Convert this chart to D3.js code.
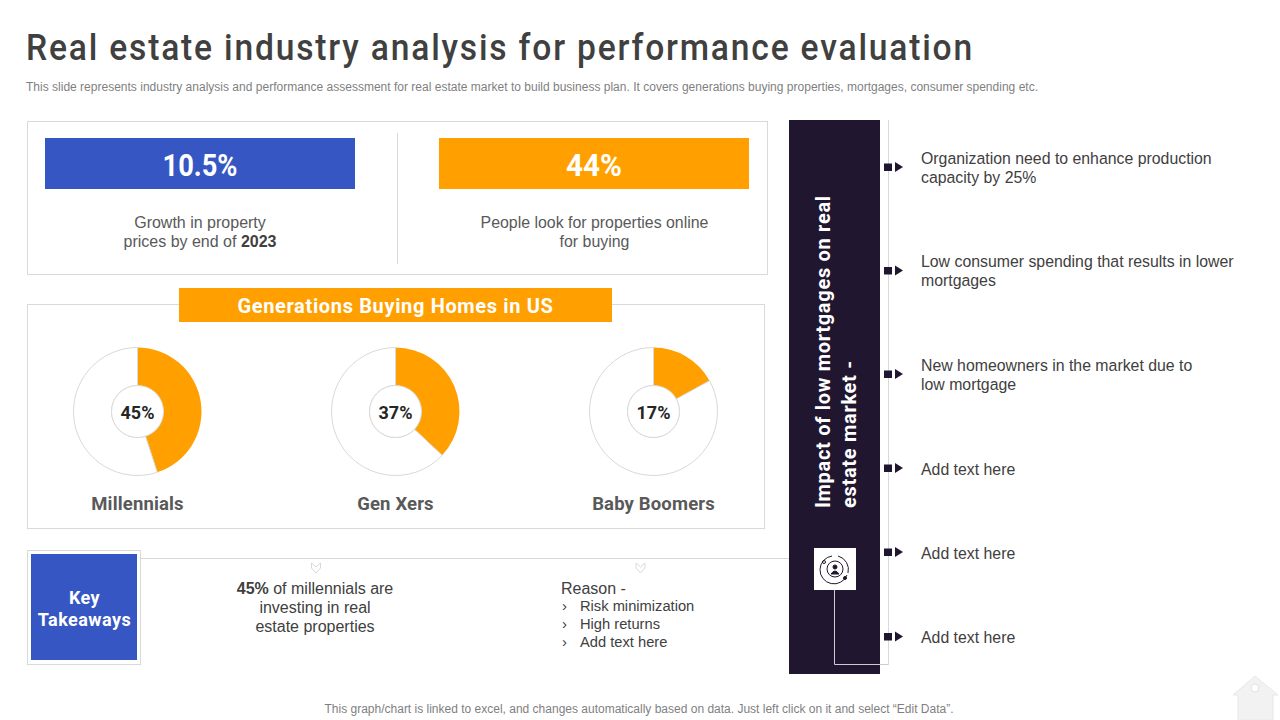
<!DOCTYPE html>
<html><head><meta charset="utf-8">
<script src="https://cdn.jsdelivr.net/npm/d3@7"></script>
<style>html,body{margin:0;padding:0;background:#fff;overflow:hidden}svg{display:block}
text{font-family:"Liberation Sans",Arial,sans-serif}
.din{font-family:"Roboto",sans-serif;font-weight:700}</style></head><body>
<svg id="c" width="1280" height="720"></svg>
<script>
const categories=["Millennials","Gen Xers","Baby Boomers"];
const shares=[45,37,17];
const bullets=[
 ["Organization need to enhance production","capacity by 25%"],
 ["Low consumer spending that results in lower","mortgages"],
 ["New homeowners in the market due to","low mortgage"],
 ["Add text here"],["Add text here"],["Add text here"]];
const bulletY=[167,270.5,374,468,552,636.5];
const reasons=["Risk minimization","High returns","Add text here"];
const ORANGE="#ffa000",BLUE="#3656c4",DARK="#21162f",LINE="#d9d9d9",TXT="#404040";
const svg=d3.select("#c");
function rect(x,y,w,h,f,s,sw){return svg.append("rect").attr("x",x).attr("y",y).attr("width",w).attr("height",h).attr("fill",f||"none").attr("stroke",s||"none").attr("stroke-width",sw||1);}
function line(x1,y1,x2,y2,s,sw){return svg.append("line").attr("x1",x1).attr("y1",y1).attr("x2",x2).attr("y2",y2).attr("stroke",s||LINE).attr("stroke-width",sw||1);}
function text(x,y,t,size,fill,anchor,cls,w){const e=svg.append("text").attr("x",x).attr("y",y).attr("font-size",size).attr("fill",fill||TXT).attr("text-anchor",anchor||"start").text(t);if(cls)e.attr("class",cls);if(w)e.attr("font-weight",w);return e;}
function fit(e,len){return e.attr("textLength",len).attr("lengthAdjust","spacingAndGlyphs");}

// header
fit(text(26,60,"Real estate industry analysis for performance evaluation",36,"#404040","start","din").style("font-weight",500).attr("letter-spacing",1.95),948);
text(26,91,"This slide represents industry analysis and performance assessment for real estate market to build business plan. It covers generations buying properties, mortgages, consumer spending etc.",12,"#7f7f7f").attr("textLength",1012).attr("lengthAdjust","spacing");

// KPI panel
rect(27.5,121.5,740,153,"#fff",LINE);
line(397.5,133,397.5,264);
rect(45,138,310,51,BLUE);
rect(439,138,310,51,ORANGE);
fit(text(200,176,"10.5%",31,"#fff","middle","din"),75);
fit(text(594,176,"44%",31,"#fff","middle","din"),56);
text(200,228,"Growth in property",16,"#595959","middle");
const g2=text(200,247,"prices by end of ",16,"#595959","middle");
g2.append("tspan").attr("font-weight",700).attr("fill","#404040").text("2023");
text(594.5,228,"People look for properties online",15.9,"#595959","middle");
text(594.5,247,"for buying",15.9,"#595959","middle");

// generations panel
rect(27.5,304.5,737,224,"#fff",LINE);
rect(179,288,433,34,ORANGE);
text(395.5,313,"Generations Buying Homes in US",20,"#fff","middle","din").attr("letter-spacing",0.65);

const cx=d3.scalePoint().domain(categories).range([137.5,653.5]);
const pie=d3.pie().sort(null).value(d=>d);
const arc=d3.arc().innerRadius(26).outerRadius(64);
categories.forEach((c,i)=>{
  const g=svg.append("g").attr("transform",`translate(${cx(c)},411.5)`);
  g.selectAll("path").data(pie([shares[i],100-shares[i]])).join("path")
    .attr("d",arc).attr("fill",(d,j)=>j?"#fff":ORANGE).attr("stroke",(d,j)=>j?LINE:"none");
  g.append("circle").attr("r",26).attr("fill","#fff").attr("stroke",LINE);
  g.append("text").attr("class","din").attr("text-anchor","middle").attr("y",7).attr("font-size",18).attr("fill","#262626").text(shares[i]+"%");
  text(cx(c),510,c,18.5,"#595959","middle","din").attr("letter-spacing",0.15);
});

// takeaways
line(141,558.5,789,558.5);
rect(27.5,550.5,113,114,"#fff",LINE);
rect(31,554,106,106,BLUE);
text(84.5,604,"Key",18,"#fff","middle","din").attr("letter-spacing",0.4);
text(84.5,626,"Takeaways",18,"#fff","middle","din").attr("letter-spacing",0.45);
[316,640.5].forEach(x=>svg.append("path").attr("d",`M${x-4.5},563 L${x},567 L${x+4.5},563 L${x+4.5},568 L${x},573 L${x-4.5},568 Z`).attr("fill","#fff").attr("stroke",LINE));
const k=text(315,594,"",16,"#404040","middle");
k.append("tspan").attr("font-weight",700).text("45%");
k.append("tspan").text(" of millennials are");
text(315,613,"investing in real",16,"#404040","middle");
text(315,632,"estate properties",16,"#404040","middle");
text(561,594,"Reason -",16,"#404040");
reasons.forEach((r,i)=>{const y=611+i*18;text(562,y,"›",15,"#404040");text(580,y,r,14.7,"#404040");});

// right column
rect(789,120,91,554,DARK);
line(888.5,120,888.5,664.5);
svg.append("path").attr("d","M834.5,590 V664.5 H888.5").attr("fill","none").attr("stroke","#cfcbd3");
rect(814,548,42,42,"#fff");
const ic=svg.append("g").attr("transform","translate(835,569)").attr("fill","none").attr("stroke",DARK);
ic.append("circle").attr("r",8);
ic.append("path").attr("d","M-3,-13 A14,14 0 1 0 12,6").attr("stroke-width",1);
ic.append("path").attr("d","M3,-13 A14,14 0 0 1 13,4").attr("stroke-width",1);
ic.append("circle").attr("cy",-2).attr("r",2).attr("fill",DARK);
ic.append("path").attr("d","M-4,5 Q0,-1 4,5 Z").attr("fill",DARK);
ic.append("circle").attr("cx",10).attr("cy",9).attr("r",1.5).attr("fill",DARK);
ic.append("circle").attr("cx",-11).attr("cy",-7).attr("r",1.5);

const v=svg.append("g").attr("transform","translate(830,508) rotate(-90)");
v.append("text").attr("class","din").attr("font-size",20).attr("fill","#fff").attr("letter-spacing",0.7).text("Impact of low mortgages on real");
v.append("text").attr("class","din").attr("y",26).attr("font-size",20).attr("fill","#fff").attr("letter-spacing",0.7).text("estate market -");

bullets.forEach((b,i)=>{
  const y=bulletY[i];
  rect(884,y-3.5,8,7.5,DARK);
  svg.append("path").attr("d",`M895,${y-5} L903,${y} L895,${y+5} Z`).attr("fill",DARK);
  const y0=Math.floor(b.length>1?y-3:y+7);
  b.forEach((t,j)=>text(921,y0+j*19,t,15.85,"#404040"));
});

// footer
text(639,713,"This graph/chart is linked to excel, and changes automatically based on data. Just left click on it and select “Edit Data”.",12,"#7f7f7f","middle");
svg.append("path").attr("d","M1255,676 L1278,695 L1273,695 L1273,720 L1238,720 L1238,695 L1233,695 Z").attr("fill","#f2f2f2").attr("stroke","#e8e8e8");
svg.append("circle").attr("cx",1255).attr("cy",688).attr("r",4).attr("fill","#fff").attr("stroke","#e0e0e0");
</script></body></html>
